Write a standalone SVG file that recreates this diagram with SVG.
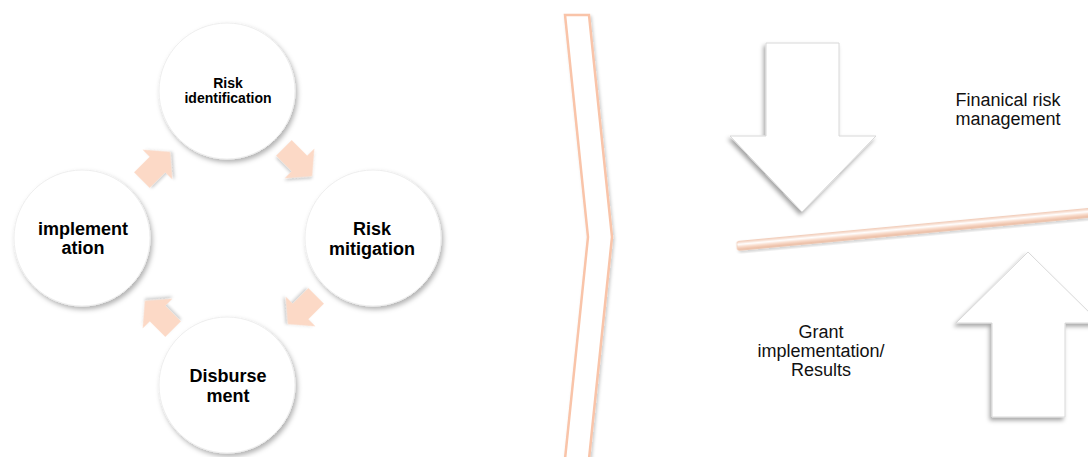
<svg xmlns="http://www.w3.org/2000/svg" width="1088" height="457" viewBox="0 0 1088 457">
<style>
.circ{fill:#ffffff;stroke:#eeeeee;stroke-width:1;filter:url(#sh)}
.cyc{fill:#FCD9C6;filter:url(#shs)}
.bt{font-family:"Liberation Sans",Arial,sans-serif;font-weight:bold;fill:#000;text-anchor:middle}
.rt{font-family:"Liberation Sans",Arial,sans-serif;font-size:18px;fill:#111;text-anchor:middle}
.big{fill:#ffffff;stroke:#d8d8d8;stroke-width:1;filter:url(#sh2)}
</style>
<defs>
<filter id="sh" x="-20%" y="-20%" width="140%" height="140%">
<feDropShadow dx="2" dy="3" stdDeviation="2.5" flood-color="#000" flood-opacity="0.3"/>
</filter>
<filter id="shs" x="-30%" y="-30%" width="160%" height="160%">
<feDropShadow dx="1.5" dy="2" stdDeviation="1.5" flood-color="#000" flood-opacity="0.2"/>
</filter>
<filter id="sh2" x="-20%" y="-20%" width="140%" height="140%">
<feDropShadow dx="-2" dy="3" stdDeviation="2" flood-color="#000" flood-opacity="0.35"/>
</filter>
<linearGradient id="beamg" x1="0" y1="0" x2="0" y2="1">
<stop offset="0" stop-color="#F3CDB8"/>
<stop offset="0.35" stop-color="#ffffff"/>
<stop offset="0.6" stop-color="#F9DCCB"/>
<stop offset="1" stop-color="#E9B79D"/>
</linearGradient>
<polygon id="blk" points="-20,-11 2,-11 2,-21 20,0 2,21 2,11 -20,11"/>
</defs>

<g id="connectors">
<use href="#blk" class="cyc" transform="translate(298,162) rotate(45)"/>
<use href="#blk" class="cyc" transform="translate(302,310) rotate(135)"/>
<use href="#blk" class="cyc" transform="translate(159,315) rotate(225)"/>
<use href="#blk" class="cyc" transform="translate(156,166) rotate(315)"/>
</g>

<g id="node-risk-identification">
<circle class="circ" cx="227" cy="91" r="68"/>
<text class="bt" font-size="14" x="228" y="88">Risk</text>
<text class="bt" font-size="14" x="228" y="103">identification</text>
</g>
<g id="node-risk-mitigation">
<circle class="circ" cx="373" cy="238" r="68"/>
<text class="bt" font-size="18" x="372" y="235">Risk</text>
<text class="bt" font-size="18" x="372" y="255">mitigation</text>
</g>
<g id="node-disbursement">
<circle class="circ" cx="227" cy="385" r="68"/>
<text class="bt" font-size="18" x="228" y="382">Disburse</text>
<text class="bt" font-size="18" x="228" y="402">ment</text>
</g>
<g id="node-implementation">
<circle class="circ" cx="82" cy="238" r="68"/>
<text class="bt" font-size="18" x="83" y="235">implement</text>
<text class="bt" font-size="18" x="83" y="254">ation</text>
</g>

<g id="chevron">
<polygon points="565,15 589,15 612,237 589,459 565,459 588,237" fill="#ffffff" stroke="#F9C4A9" stroke-width="2.5" filter="url(#shs)"/>
</g>

<g id="down-arrow">
<polygon class="big" points="766,43 839,43 839,136 876,136 802,212 730,136 766,136"/>
</g>
<g id="up-arrow">
<polygon class="big" points="1028,252 1100,323 1065,323 1065,417 992,417 992,323 956,323"/>
</g>

<g id="beam">
<g transform="translate(737,246) rotate(-5.37)" filter="url(#shs)">
<rect x="0" y="-4.5" width="370" height="9" rx="2" fill="url(#beamg)" stroke="#EFC3AB" stroke-width="0.6"/>
</g>
</g>

<g id="label-financial">
<text class="rt" x="1008" y="106">Finanical risk</text>
<text class="rt" x="1008" y="125">management</text>
</g>
<g id="label-grant">
<text class="rt" x="821" y="338">Grant</text>
<text class="rt" x="821" y="357">implementation/</text>
<text class="rt" x="821" y="376">Results</text>
</g>
</svg>
